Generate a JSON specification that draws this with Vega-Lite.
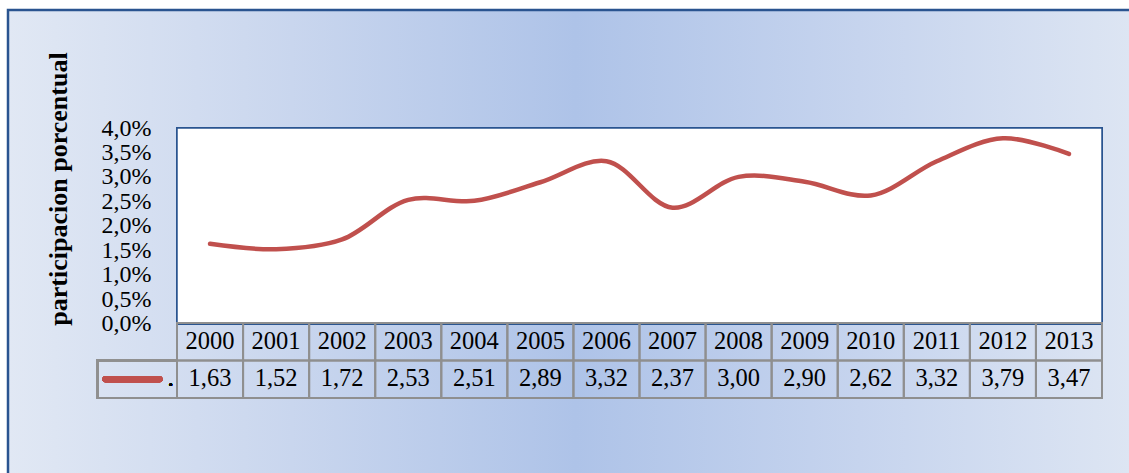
{
  "$schema": "https://vega.github.io/schema/vega-lite/v6.json",
  "width": 1135,
  "height": 470,
  "autosize": {"type": "none"},
  "padding": {"left": 8, "top": 10, "right": 0, "bottom": 0},
  "background": "white",
  "view": {
    "fill": {"gradient": "linear", "x1": 0, "y1": 0, "x2": 1, "y2": 0,
      "stops": [
        {"offset": 0, "color": "#e1e8f4"},
        {"offset": 0.25, "color": "#c9d6ee"},
        {"offset": 0.5, "color": "#aec3e8"},
        {"offset": 0.75, "color": "#c6d4ee"},
        {"offset": 1, "color": "#dee6f3"}
      ]},
    "stroke": "#2a5490",
    "strokeWidth": 2.5
  },
  "config": {
    "locale": {"number": {"decimal": ",", "thousands": ".", "grouping": [3], "currency": ["", "€"]}}
  },
  "data": {
    "values": [
      {"year": 2000, "value": 1.63},
      {"year": 2001, "value": 1.52},
      {"year": 2002, "value": 1.72},
      {"year": 2003, "value": 2.53},
      {"year": 2004, "value": 2.51},
      {"year": 2005, "value": 2.89},
      {"year": 2006, "value": 3.32},
      {"year": 2007, "value": 2.37},
      {"year": 2008, "value": 3.00},
      {"year": 2009, "value": 2.90},
      {"year": 2010, "value": 2.62},
      {"year": 2011, "value": 3.32},
      {"year": 2012, "value": 3.79},
      {"year": 2013, "value": 3.47}
    ]
  },
  "layer": [
    {
      "layer": [
        {
          "mark": {"type": "rect", "fill": "white", "stroke": "#2a5490", "strokeWidth": 1.5},
          "encoding": {
            "x": {"datum": 2000, "type": "ordinal", "bandPosition": 0,
              "scale": {"type": "band", "domain": [2000,2001,2002,2003,2004,2005,2006,2007,2008,2009,2010,2011,2012,2013], "range": [169, 1094], "paddingInner": 0, "paddingOuter": 0},
              "axis": null},
            "x2": {"datum": 2013, "bandPosition": 1},
            "y": {"datum": 0, "type": "quantitative",
              "scale": {"domain": [0, 4], "range": [313.5, 118], "nice": false, "zero": false}},
            "y2": {"datum": 4}
          }
        },
        {
          "mark": {"type": "line", "color": "#c0504d", "strokeWidth": 4.5, "interpolate": "catmull-rom", "strokeCap": "round"},
          "encoding": {
            "x": {"field": "year", "type": "ordinal", "bandPosition": 0.5,
              "scale": {"type": "band", "domain": [2000,2001,2002,2003,2004,2005,2006,2007,2008,2009,2010,2011,2012,2013], "range": [169, 1094], "paddingInner": 0, "paddingOuter": 0},
              "axis": null},
            "y": {"field": "value", "type": "quantitative",
              "scale": {"domain": [0, 4], "range": [313.5, 118], "nice": false, "zero": false},
              "axis": {
                "orient": "left", "offset": -169,
                "values": [0, 0.5, 1, 1.5, 2, 2.5, 3, 3.5, 4],
                "labelExpr": "replace(format(datum.value, '.1f'), '.', ',') + '%'",
                "labelFont": "Liberation Serif", "labelFontSize": 24, "labelColor": "black",
                "labelPadding": 26, "labelOverlap": false, "labelFlush": false, "labelBaseline": "middle",
                "domain": false, "ticks": false, "grid": false,
                "title": "participacion porcentual",
                "titleFont": "Liberation Serif", "titleFontSize": 26, "titleFontWeight": "bold", "titleColor": "black",
                "titleX": -119, "titleY": 178.5, "titleAngle": 270, "titleAlign": "center", "titleBaseline": "middle"
              }}
          }
        }
      ]
    },
    {
      "encoding": {
        "x": {"field": "year", "type": "ordinal",
          "scale": {"type": "band", "domain": [2000,2001,2002,2003,2004,2005,2006,2007,2008,2009,2010,2011,2012,2013], "range": [169, 1094], "paddingInner": 0, "paddingOuter": 0},
          "axis": null}
      },
      "layer": [
        {
          "mark": {"type": "rect", "fill": "transparent", "stroke": "#8f8f8f", "strokeWidth": 2},
          "encoding": {
            "y": {"datum": "h", "type": "nominal", "scale": {"type": "band", "domain": ["h", "v"], "range": [313, 388], "paddingInner": 0, "paddingOuter": 0}, "axis": null}
          }
        },
        {
          "mark": {"type": "rect", "fill": "transparent", "stroke": "#8f8f8f", "strokeWidth": 2},
          "encoding": {
            "y": {"datum": "v", "type": "nominal", "scale": {"type": "band", "domain": ["h", "v"], "range": [313, 388], "paddingInner": 0, "paddingOuter": 0}, "axis": null}
          }
        },
        {
          "mark": {"type": "text", "font": "Liberation Serif", "fontSize": 24.5, "color": "black", "baseline": "middle", "align": "center"},
          "encoding": {
            "y": {"datum": "h", "type": "nominal", "scale": {"type": "band", "domain": ["h", "v"], "range": [313, 388], "paddingInner": 0, "paddingOuter": 0}, "axis": null},
            "text": {"field": "year", "type": "nominal"}
          }
        },
        {
          "mark": {"type": "text", "font": "Liberation Serif", "fontSize": 24.5, "color": "black", "baseline": "middle", "align": "center"},
          "encoding": {
            "y": {"datum": "v", "type": "nominal", "scale": {"type": "band", "domain": ["h", "v"], "range": [313, 388], "paddingInner": 0, "paddingOuter": 0}, "axis": null},
            "text": {"field": "value", "type": "quantitative", "format": ".2f"}
          }
        }
      ]
    },
    {
      "layer": [
        {
          "mark": {"type": "rect", "fill": "transparent", "stroke": "#8f8f8f", "strokeWidth": 2},
          "encoding": {
            "x": {"datum": "k", "type": "nominal", "scale": {"type": "band", "domain": ["k"], "range": [89.5, 169], "paddingInner": 0, "paddingOuter": 0}, "axis": null},
            "y": {"datum": "v", "type": "nominal", "scale": {"type": "band", "domain": ["h", "v"], "range": [313, 388], "paddingInner": 0, "paddingOuter": 0}, "axis": null}
          }
        },
        {
          "mark": {"type": "rule", "color": "#c0504d", "strokeWidth": 6, "strokeCap": "round"},
          "encoding": {
            "x": {"datum": "k", "type": "nominal", "bandPosition": 0.1, "scale": {"type": "band", "domain": ["k"], "range": [89.5, 169], "paddingInner": 0, "paddingOuter": 0}, "axis": null},
            "x2": {"datum": "k", "bandPosition": 0.78},
            "y": {"datum": "v", "type": "nominal", "bandPosition": 0.5, "scale": {"type": "band", "domain": ["h", "v"], "range": [313, 388], "paddingInner": 0, "paddingOuter": 0}, "axis": null}
          }
        },
        {
          "mark": {"type": "text", "text": ".", "font": "Liberation Serif", "fontSize": 24, "color": "black", "baseline": "middle", "align": "center"},
          "encoding": {
            "x": {"datum": "k", "type": "nominal", "bandPosition": 0.92, "scale": {"type": "band", "domain": ["k"], "range": [89.5, 169], "paddingInner": 0, "paddingOuter": 0}, "axis": null},
            "y": {"datum": "v", "type": "nominal", "scale": {"type": "band", "domain": ["h", "v"], "range": [313, 388], "paddingInner": 0, "paddingOuter": 0}, "axis": null}
          }
        }
      ]
    }
  ],
  "resolve": {"scale": {"x": "independent", "y": "independent"}, "axis": {"x": "independent", "y": "independent"}}
}
